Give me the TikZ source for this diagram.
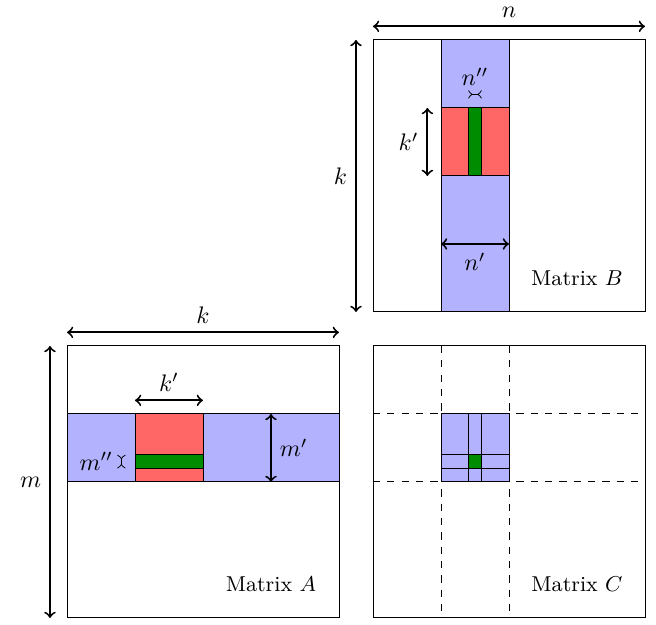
\documentclass[tikz,border=0pt]{standalone}
\begin{document}
\begin{tikzpicture}[>=to,
  dim/.style={<->,thick},
  small/.style={>-<},
  mat/.style={draw, minimum width=4cm, minimum height=4cm, inner sep=0pt, outer sep=0pt},
  blk/.style={draw, inner sep=0pt, outer sep=0pt},
  lbl/.style={font=\small},
  bluef/.style={fill=blue!30},
  redf/.style={fill=red!60},
  greenf/.style={fill=green!55!black}]
\useasboundingbox (-0.985,-0.103) rectangle (8.662,9.088);

% ---------- Matrix B ----------
\node[mat] (B) at (6.5,6.5) {};
\node[blk, bluef, minimum width=1cm, minimum height=4cm] (Bcol) at (6,6.5) {};
\node[blk, redf, minimum width=1cm, minimum height=1cm] (Bred) at (6,7) {};
\node[blk, greenf, minimum width=2mm, minimum height=1cm] (Bgrn) at (6,7) {};
\node[mat] at (B) {};
\node[lbl] (LB) at ([shift={(-1,0.5)}]B.south east) {Matrix $B$};

\draw[dim] ([yshift=2mm]B.north west) -- node[above]{$n$} ([yshift=2mm]B.north east);
\draw[dim] ([xshift=-2.5mm]B.south west) -- node[left]{$k$} ([xshift=-2.5mm]B.north west);
\draw[dim] ([xshift=-2mm]Bred.south west) -- node[left]{$k'$} ([xshift=-2mm]Bred.north west);
\draw[dim] ([yshift=1cm]Bcol.south west) -- node[below]{$n'$} ([yshift=1cm]Bcol.south east);
\draw[small] ([yshift=2mm]Bgrn.north west) -- node[above]{$n''$} ([yshift=2mm]Bgrn.north east);

% ---------- Matrix A ----------
\node[mat] (A) at (2,2) {};
\node[blk, bluef, minimum width=4cm, minimum height=1cm] (Arow) at (2,2.5) {};
\node[blk, redf, minimum width=1cm, minimum height=1cm] (Ared) at (1.5,2.5) {};
\node[blk, greenf, minimum width=1cm, minimum height=2mm] (Agrn) at (1.5,2.3) {};
\node[lbl] (LA) at ([shift={(-1,0.5)}]A.south east) {Matrix $A$};

\draw[dim] ([yshift=2mm]A.north west) -- node[above]{$k$} ([yshift=2mm]A.north east);
\draw[dim] ([xshift=-2.5mm]A.south west) -- node[left]{$m$} ([xshift=-2.5mm]A.north west);
\draw[dim] ([yshift=2mm]Ared.north west) -- node[above]{$k'$} ([yshift=2mm]Ared.north east);
\draw[dim] ([xshift=1cm]Arow.south) -- node[right]{$m'$} ([xshift=1cm]Arow.north);
\draw[small] ([xshift=-2mm]Agrn.south west) -- node[left]{$m''$} ([xshift=-2mm]Agrn.north west);

% ---------- Matrix C ----------
\node[mat] (C) at (6.5,2) {};
\node[blk, bluef, minimum width=1cm, minimum height=1cm] (Cblk) at (6,2.5) {};
\node[blk, minimum width=2mm, minimum height=1cm] (Ccol) at (6,2.5) {};
\node[blk, minimum width=1cm, minimum height=2mm] (Crow) at (6,2.3) {};
\node[blk, greenf, minimum width=2mm, minimum height=2mm] (Cgrn) at (6,2.3) {};
\node[lbl] (LC) at ([shift={(-1,0.5)}]C.south east) {Matrix $C$};

\draw[dashed] (Cblk.west |- C.north) -- (Cblk.west |- C.south);
\draw[dashed] (Cblk.east |- C.north) -- (Cblk.east |- C.south);
\draw[dashed] (C.west |- Cblk.north) -- (C.east |- Cblk.north);
\draw[dashed] (C.west |- Cblk.south) -- (C.east |- Cblk.south);
\end{tikzpicture}
\end{document}
